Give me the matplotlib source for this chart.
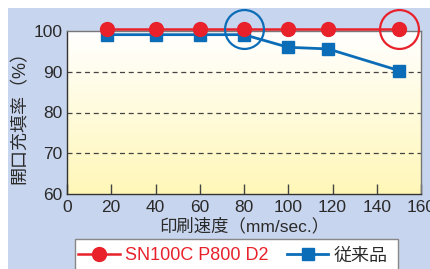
"""Aperture fill rate vs printing speed, SN100C P800 D2 against the conventional paste."""

import matplotlib

matplotlib.use("Agg")
import matplotlib.pyplot as plt
import numpy as np
from matplotlib.colors import LinearSegmentedColormap
from matplotlib.lines import Line2D
from matplotlib.patches import Rectangle

plt.rcParams["font.family"] = ["Liberation Sans", "Noto Sans CJK JP", "DejaVu Sans"]

speeds = [18, 40, 60, 80, 100, 118, 150]
sn100c_fill = [100.5, 100.5, 100.5, 100.5, 100.5, 100.5, 100.5]
conventional_fill = [99.1, 99.1, 99.1, 99.1, 96.0, 95.6, 90.3]
highlight_speeds = [80, 150]
highlight_fill = [100.5, 100.5]
x_ticks = [0, 20, 40, 60, 80, 100, 120, 140, 160]
y_ticks = [60, 70, 80, 90, 100]
series_labels = ["SN100C P800 D2", "従来品"]

RED = "#e8212b"
BLUE = "#0b6db8"
PANEL = "#c8d5ee"
TEXT = "#2a2a2a"
W, H = 430, 269

fig = plt.figure(figsize=(W / 100, H / 100), dpi=100)
fig.patches.append(Rectangle((8 / W, 0), 1, 1 - 8 / H, transform=fig.transFigure,
                             facecolor=PANEL, edgecolor="none", zorder=-10))

ax = fig.add_axes([67 / W, 1 - 194 / H, (421 - 67) / W, (194 - 31) / H])
ax.set_xlim(0, 160)
ax.set_ylim(60, 100)

# white-to-cream gradient plot background
cmap = LinearSegmentedColormap.from_list("cream", ["#fff7b8", "#ffffff"])
ax.imshow(np.linspace(0, 1, 256).reshape(-1, 1), cmap=cmap, origin="lower",
          extent=[0, 160, 60, 100], aspect="auto", zorder=0)

for y in y_ticks[1:-1]:
    ax.axhline(y, color="#444444", linestyle=(0, (4, 3)), linewidth=0.9, zorder=1)

ax.plot(speeds, conventional_fill, color=BLUE, linewidth=2.0, marker="s", markersize=8.5,
        clip_on=False, zorder=3)
ax.plot(speeds, sn100c_fill, color=RED, linewidth=1.8, marker="o", markersize=10,
        clip_on=False, zorder=4)
ax.plot(highlight_speeds[:1], highlight_fill[:1], linestyle="none", marker="o", markersize=28,
        markerfacecolor="none", markeredgecolor=BLUE, markeredgewidth=1.6, clip_on=False, zorder=5)
ax.plot(highlight_speeds[1:], highlight_fill[1:], linestyle="none", marker="o", markersize=28,
        markerfacecolor="none", markeredgecolor=RED, markeredgewidth=1.6, clip_on=False, zorder=5)

ax.set_xticks(x_ticks)
ax.set_yticks(y_ticks)
ax.tick_params(axis="x", direction="in", length=7, width=1, color="#444444",
               labelsize=12.5, labelcolor=TEXT, pad=4)
ax.tick_params(axis="y", length=0, labelsize=12.5, labelcolor=TEXT, pad=3)
for spine in ax.spines.values():
    spine.set_color("#333333")
    spine.set_linewidth(1.0)
ax.spines["top"].set_color("#777777")
ax.spines["right"].set_color("#777777")

ax.set_xlabel("印刷速度（mm/sec.）", fontsize=12.5, color=TEXT, labelpad=2)
ax.set_ylabel("開口充填率（%）", fontsize=13, color=TEXT, labelpad=4)

# legend box runs off the bottom edge
fig.patches.append(Rectangle((75 / W, -0.05), (398 - 75) / W, 0.05 + 1 - 239 / H,
                             transform=fig.transFigure, facecolor="white",
                             edgecolor="#888888", linewidth=1.0, zorder=5))
handles = [
    Line2D([], [], color=RED, linewidth=1.8, marker="o", markersize=10),
    Line2D([], [], color=BLUE, linewidth=2.0, marker="s", markersize=8.5),
]
leg = fig.legend(handles, series_labels, loc="center", bbox_to_anchor=(233 / W, 1 - 256 / H),
                 ncol=2, frameon=False, fontsize=13, handlelength=2.3, handletextpad=0.3,
                 columnspacing=1.0, borderpad=0)
leg.set_zorder(6)
leg.get_texts()[0].set_color(RED)
leg.get_texts()[1].set_color(TEXT)

fig.savefig("out.png", dpi=100)
